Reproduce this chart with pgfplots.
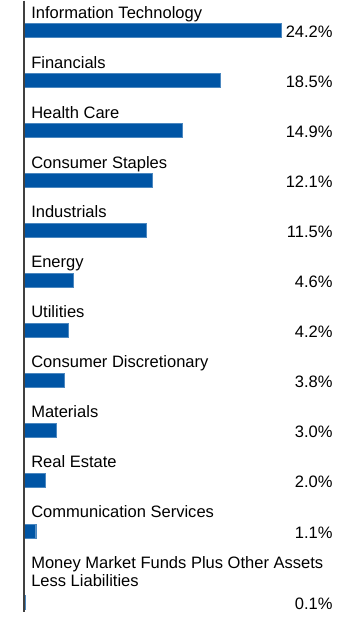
\documentclass[border=0pt]{standalone}
\usepackage{pgfplots}
\pgfplotsset{compat=1.18}
\usepackage{fontspec}
\setmainfont{Liberation Sans}
\definecolor{barblue}{HTML}{0055A5}
\begin{document}
\begin{tikzpicture}
\begin{axis}[
  width=360bp, height=617bp, scale only axis,
  xmin=-2.26, xmax=31.64,
  ymin=0, ymax=617, y dir=reverse,
  axis line style={draw=none},
  xtick=\empty,
  clip=false,
  ytick={17.6,67.6,117.6,167.6,217.6,267.6,317.6,367.6,417.6,467.6,517.8,586},
  yticklabels={Information Technology,Financials,Health Care,Consumer Staples,Industrials,Energy,Utilities,Consumer Discretionary,Materials,Real Estate,Communication Services,{Money Market Funds Plus Other Assets\\Less Liabilities}},
  yticklabel style={anchor=base west, align=left, inner sep=0pt, xshift=31bp, font=\fontsize{16.6}{17.8}\selectfont},
  major tick length=0pt,
]
\addplot[xbar, bar width=14, fill=barblue, draw=barblue!70!white, line width=0.4pt]
  coordinates {(24.2,30) (18.5,80) (14.9,130) (12.1,180) (11.5,230) (4.6,280) (4.2,330) (3.8,380) (3.0,430) (2.0,480) (1.1,531) (0.1,602)};
\addplot[only marks, mark=none, point meta=explicit symbolic,
  nodes near coords, nodes near coords align={anchor=east},
  every node near coord/.append style={font=\fontsize{16.6}{19}\selectfont, inner sep=0pt}]
  table[meta=lab] {
x y lab
29.1 31.5 24.2\%
29.1 81.5 18.5\%
29.1 131.5 14.9\%
29.1 181.5 12.1\%
29.1 231.5 11.5\%
29.1 281.5 4.6\%
29.1 331.5 4.2\%
29.1 381.5 3.8\%
29.1 431.5 3.0\%
29.1 481.5 2.0\%
29.1 532.5 1.1\%
29.1 603.5 0.1\%
};
\draw[black!75, line width=1.2pt] (axis cs:0,0) -- (axis cs:0,612);
\end{axis}
\end{tikzpicture}
\end{document}
